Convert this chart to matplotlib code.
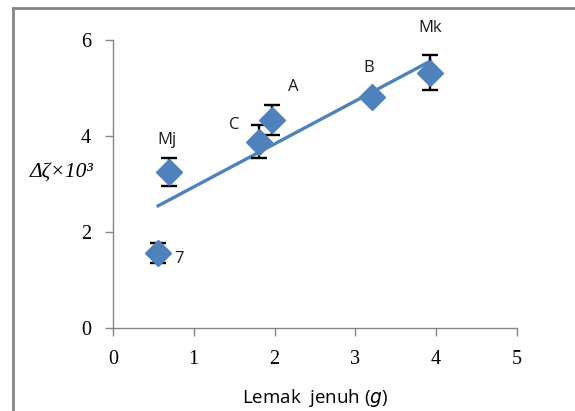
import numpy as np
import matplotlib
matplotlib.use("Agg")
import matplotlib.pyplot as plt

# values
names = ["7", "Mj", "C", "A", "B", "Mk"]
lemak = [0.56, 0.69, 1.81, 1.97, 3.20, 3.93]
dzeta = [1.56, 3.25, 3.88, 4.33, 4.80, 5.32]
err = [0.20, 0.30, 0.35, 0.32, 0.05, 0.36]

blue = "#4F81BD"
grey = "#868686"

fig = plt.figure(figsize=(5.75, 4.11), dpi=100)
ax = fig.add_axes([0.1965, 0.202, 0.7025, 0.701])

# linear trendline over the data range
k, b = np.polyfit(lemak, dzeta, 1)
xs = np.array([min(lemak), max(lemak)])
ax.plot(xs, k * xs + b, color=blue, lw=2.4, zorder=2)

ax.errorbar(lemak, dzeta, yerr=err, fmt="none", ecolor="black",
            elinewidth=1.7, capsize=5.5, capthick=1.7, zorder=3)
ax.plot(lemak, dzeta, "D", color=blue, ms=13, mec=blue, zorder=4)

# label offsets in points
offs = {"7": (15, -4), "Mj": (-1, 23), "C": (-18, 12), "A": (15, 24),
        "B": (-2, 21), "Mk": (0, 32)}
for n, xv, yv in zip(names, lemak, dzeta):
    dx, dy = offs[n]
    ax.annotate(n, (xv, yv), xytext=(dx, dy), textcoords="offset points",
                ha="center", va="center", fontsize=12,
                fontfamily="Open Sans", color="#1a1a1a")

ax.set_xlim(0, 5)
ax.set_ylim(0, 6)
ax.set_xticks([0, 1, 2, 3, 4, 5])
ax.set_yticks([0, 2, 4, 6])
for s in ["top", "right"]:
    ax.spines[s].set_visible(False)
for s in ["left", "bottom"]:
    ax.spines[s].set_color(grey)
    ax.spines[s].set_linewidth(1.0)
ax.tick_params(direction="out", length=6, width=1.0, color=grey,
               labelsize=14.5, pad=10)
for t in ax.get_xticklabels() + ax.get_yticklabels():
    t.set_fontfamily("Liberation Serif")

ax.set_xlabel("Lemak  jenuh ($\\it{g}$)", fontsize=13.5, fontfamily="Open Sans",
              labelpad=13)
fig.text(0.052, 1 - 172 / 411, "Δζ×10³", fontsize=15.5, style="italic",
         fontfamily="Liberation Serif", va="center", ha="left")

# chart area border (left and top visible)
fig.add_artist(plt.Line2D([13 / 575, 13 / 575], [0, 1 - 8 / 411],
                          transform=fig.transFigure, color=grey, lw=2))
fig.add_artist(plt.Line2D([13 / 575, 1], [1 - 8 / 411, 1 - 8 / 411],
                          transform=fig.transFigure, color=grey, lw=2))

fig.savefig("out.png", dpi=100)
